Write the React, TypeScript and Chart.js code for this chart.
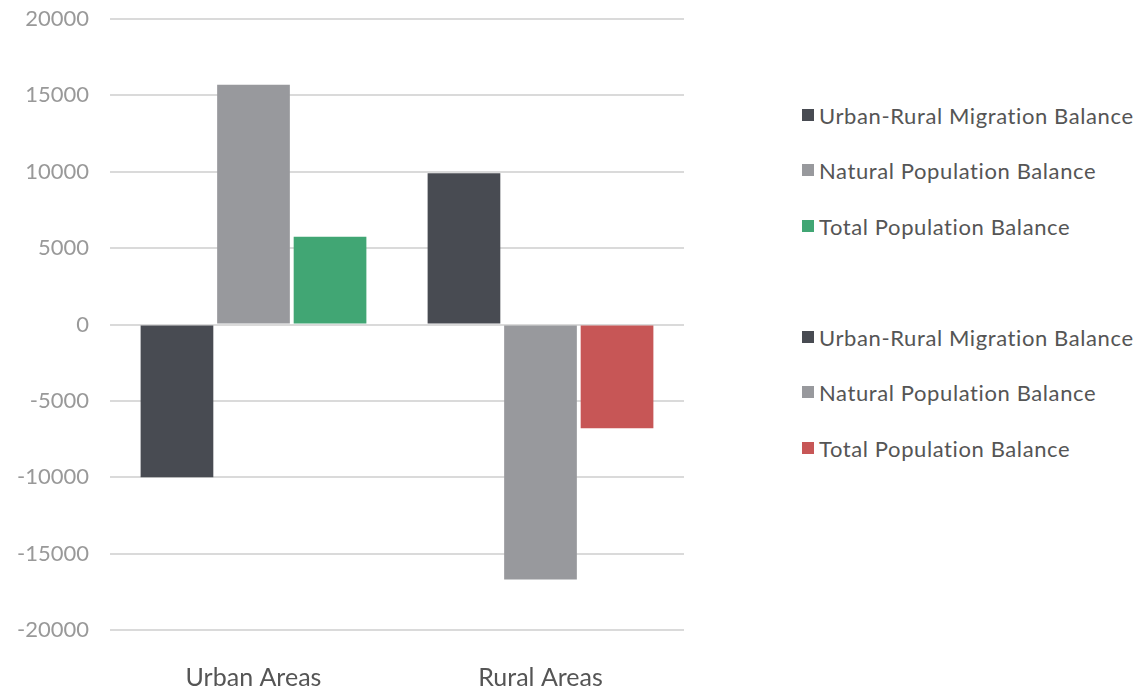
import React, { useEffect, useRef } from "react";
import { Chart, registerables } from "chart.js";

Chart.register(...registerables);

const categories = ["Urban Areas", "Rural Areas"];
const seriesNames = [
  "Urban-Rural Migration Balance",
  "Natural Population Balance",
  "Total Population Balance",
];
const migrationBalance = [-10000, 9900];
const naturalBalance = [15700, -16700];
const totalBalance = [5750, -6800];
const yTicks = [20000, 15000, 10000, 5000, 0, -5000, -10000, -15000, -20000];

const DARK = "#484b52";
const GRAY = "#98999d";
const GREEN = "#41a674";
const RED = "#c75656";

const legendGroups = [
  [DARK, GRAY, GREEN],
  [DARK, GRAY, RED],
];

const FONT = "Lato, 'Open Sans', sans-serif";

export default function App() {
  const ref = useRef<HTMLCanvasElement | null>(null);

  useEffect(() => {
    if (!ref.current) return;
    const chart = new Chart(ref.current, {
      type: "bar",
      data: {
        labels: categories,
        datasets: [
          { label: seriesNames[0], data: migrationBalance, backgroundColor: DARK },
          { label: seriesNames[1], data: naturalBalance, backgroundColor: GRAY },
          { label: seriesNames[2], data: totalBalance, backgroundColor: [GREEN, RED] },
        ],
      },
      options: {
        animation: false,
        responsive: false,
        maintainAspectRatio: false,
        layout: { padding: { top: 19, right: 0, left: 0, bottom: 0 } },
        datasets: { bar: { categoryPercentage: 0.8, barPercentage: 0.95 } },
        plugins: { legend: { display: false }, tooltip: { enabled: false } },
        scales: {
          x: {
            grid: { display: false, drawTicks: false },
            border: { display: false },
            ticks: { color: "#555", font: { family: FONT, size: 25 }, padding: 33 },
            afterFit: (s: any) => {
              s.height = 63;
              s.paddingLeft = 0;
              s.paddingRight = 0;
            },
          },
          y: {
            min: -20000,
            max: 20000,
            afterBuildTicks: (s: any) => {
              s.ticks = yTicks.map((v) => ({ value: v }));
            },
            grid: { color: "#dadada", lineWidth: 2, drawTicks: false },
            border: { display: false },
            ticks: {
              color: "#999",
              font: { family: FONT, size: 22 },
              padding: 21,
              callback: (v: any) => String(v),
            },
            afterFit: (s: any) => {
              s.width = 110;
              s.paddingTop = 0;
              s.paddingBottom = 0;
            },
          },
        },
      },
    });
    return () => chart.destroy();
  }, []);

  const rowTops = [104, 159, 215, 326, 381, 437];
  return (
    <div style={{ position: "fixed", left: 0, top: 0, width: 1145, height: 693, background: "#fff" }}>
      <canvas ref={ref} width={684} height={693} style={{ position: "absolute", left: 0, top: 0, width: 684, height: 693 }} />
      {legendGroups.map((colors, g) =>
        colors.map((c, i) => (
          <div
            key={g + "-" + i}
            style={{
              position: "absolute",
              left: 802,
              top: rowTops[g * 3 + i],
              height: 22,
              display: "flex",
              alignItems: "center",
              fontFamily: FONT,
              fontSize: 22,
              letterSpacing: 0.6,
              color: "#555",
              whiteSpace: "nowrap",
            }}
          >
            <span style={{ display: "inline-block", width: 12, height: 12, background: c, marginRight: 5 }} />
            <span>{seriesNames[i]}</span>
          </div>
        ))
      )}
    </div>
  );
}
